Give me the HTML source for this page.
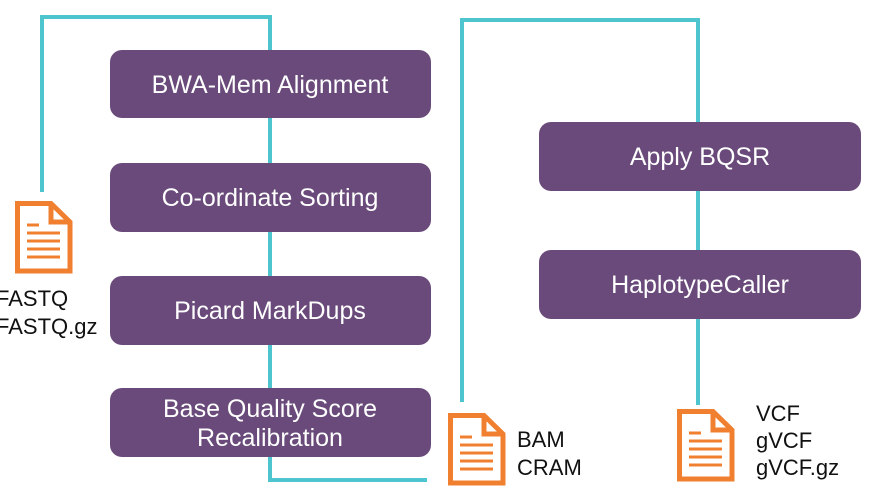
<!DOCTYPE html>
<html><head><style>
html,body{margin:0;padding:0;background:#fff;}
svg{display:block;font-family:"Liberation Sans",sans-serif;}
</style></head><body>
<svg width="873" height="491" viewBox="0 0 873 491">
<g fill="none" stroke="#4ec4cf" stroke-width="4">
<polyline points="42,192 42,17 270,17 270,480 427,480"/>
<polyline points="462,402 462,20 698,20 698,405"/>
</g>
<g fill="#694a7a">
<rect x="110" y="50" width="321" height="68" rx="12"/>
<rect x="110" y="163" width="321" height="69" rx="12"/>
<rect x="110" y="276" width="321" height="69" rx="12"/>
<rect x="110" y="388" width="321" height="69" rx="12"/>
<rect x="539" y="122" width="322" height="69" rx="12"/>
<rect x="539" y="250" width="322" height="69" rx="12"/>
</g>
<g fill="#fff" font-size="25" text-anchor="middle">
<text x="270" y="93">BWA-Mem Alignment</text>
<text x="270" y="206">Co-ordinate Sorting</text>
<text x="270" y="319">Picard MarkDups</text>
<text x="270" y="417">Base Quality Score</text>
<text x="270" y="446">Recalibration</text>
<text x="700" y="165">Apply BQSR</text>
<text x="700" y="293">HaplotypeCaller</text>
</g>
<defs>
<g id="doc" fill="none" stroke="#f08030" stroke-width="5">
<path d="M2.5,2.5 H36 L55,21 V70 H2.5 Z"/>
<path d="M36,2.5 V21 H55"/>
<path d="M12,24 H24 M12,32 H45 M12,40 H45 M12,48 H45 M12,56 H45" stroke-width="3"/>
</g>
</defs>
<use href="#doc" x="15" y="201"/>
<use href="#doc" x="448" y="413"/>
<use href="#doc" x="677" y="409"/>
<g fill="#111" font-size="22">
<text x="-4" y="306">FASTQ</text>
<text x="-4" y="334">FASTQ.gz</text>
<text x="517" y="447">BAM</text>
<text x="517" y="475">CRAM</text>
<text x="756" y="421">VCF</text>
<text x="756" y="448">gVCF</text>
<text x="756" y="475">gVCF.gz</text>
</g>
</svg>
</body></html>
